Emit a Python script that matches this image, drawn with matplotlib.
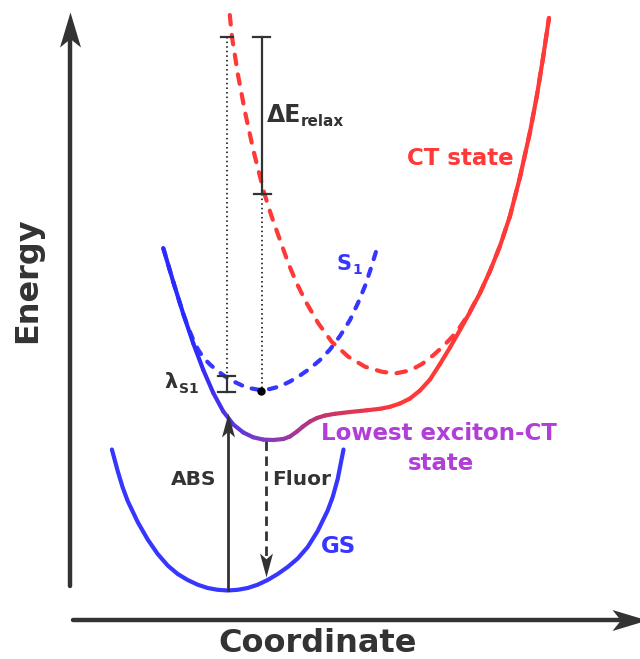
import numpy as np
import matplotlib.pyplot as plt
from matplotlib.collections import LineCollection
from matplotlib.colors import LinearSegmentedColormap, Normalize
from matplotlib.path import Path

DARK = '#333333'
BLUE = '#3636ff'
RED = '#ff3838'
PURPLE = '#b23ed8'

# potential energy curves (coordinate, energy) in screen units, energy grows downwards
gs_x = [111.9, 117.7, 122.7, 127.7, 137.7, 147.7, 157.7, 167.7, 177.7, 187.7,
        197.7, 207.7, 217.7, 227.7, 237.7, 247.7, 257.7, 267.7, 277.7, 287.7,
        297.7, 307.7, 317.7, 327.7, 332.7, 337.7, 343.5]
gs_y = [449.5, 471, 487.5, 501, 522, 539.5, 554, 565.5, 574, 580,
        584.7, 588, 589.8, 590.5, 589.8, 588, 584.7, 580, 574, 567,
        558.5, 547, 531, 510.5, 497, 479, 449.5]

s1_x = [163.3, 173.3, 183.3, 188, 193.3, 198, 203.3, 210, 216.7, 225, 233.3,
        241.7, 250, 260, 270, 280, 290, 300, 310, 320, 330, 340, 350, 358,
        365, 371, 376.5]
s1_y = [248.3, 282, 314, 327, 340, 349.5, 357.5, 364.5, 370.3, 376.3, 381.3,
        385.3, 388.2, 390, 389, 386.3, 381.5, 375.5, 368.5, 360, 349.5, 336, 320, 303,
        286, 268, 250]

ct_x = [229.8, 232, 238, 245, 253.3, 258.3, 264.3, 271.7, 280, 288.3, 296.7,
        306.7, 318.3, 331.7, 348.3, 365, 381.7, 395, 410, 422, 433, 443, 452,
        460, 468, 476.7, 480, 490, 500, 510, 520, 530, 537, 543, 549]
ct_y = [15, 37, 75, 112, 150, 170, 193.3, 216.7, 240, 263.3, 283.3,
        303.3, 323.3, 341.7, 356.7, 366.7, 371.7, 373.5, 370.5, 364, 355.5, 346.5, 337,
        327, 315, 299, 293, 271, 246, 216, 177, 132, 95, 58, 18]

low_x = [163.3, 173.3, 183.3, 193.3, 203.3, 213.3, 223.3, 233.3, 243.3, 253.3,
         263.3, 273.3, 283.3, 290, 297, 303, 310, 317, 325, 335, 350, 366.7,
         380, 390, 400, 410, 420, 430, 440, 450, 460, 470, 480, 490, 500, 510,
         520, 530, 537, 543, 549]
low_y = [248.3, 282, 314, 343.5, 370, 393, 411.5, 424.5, 432.5, 437.3,
         439.6, 440, 439, 436.5, 431.5, 426.5, 421.5, 418, 415.5, 413.8, 412, 410.3,
         408.8, 406.8, 403.5, 398.5, 390.5, 379.5, 364, 347.5, 330, 312, 293, 271, 246, 216,
         177, 132, 95, 58, 18]

# vertical transitions and gaps
abs_x, abs_from, abs_to = 227.5, 590, 413
fluor_x, fluor_from, fluor_to = 265.5, 441, 577
relax_x, relax_top, relax_bottom = 262, 37, 194
lam_x, lam_top, lam_bottom = 226.7, 376, 392
s1_min = (261, 391)

PX = 0.72  # points per pixel at 100 dpi


def head(ax, x, y, direction, length, half, color=DARK):
    # concave arrow head with its tip at (x, y); length and half width in pixels
    w = half / length
    base = {'up': [(0, 0), (w, -1), (0, -0.76), (-w, -1), (0, 0)],
            'down': [(0, 0), (w, 1), (0, 0.76), (-w, 1), (0, 0)],
            'right': [(0, 0), (-1, w), (-0.76, 0), (-1, -w), (0, 0)]}[direction]
    codes = [Path.MOVETO, Path.LINETO, Path.LINETO, Path.LINETO, Path.CLOSEPOLY]
    ax.plot(x, y, marker=Path(base, codes), ms=2 * length * PX, mew=0,
            color=color, zorder=5)


fig = plt.figure(figsize=(6.4, 6.59), dpi=100)
ax = fig.add_axes([0, 0, 1, 1])
ax.set_xlim(0, 640)
ax.set_ylim(659, 0)
ax.axis('off')

# axes arrows
ax.plot([70, 70], [586, 40], color=DARK, lw=3.2, solid_capstyle='round')
head(ax, 70, 11.5, 'up', 35, 10.5)
ax.plot([73, 620], [620, 620], color=DARK, lw=3.2, solid_capstyle='round')
head(ax, 647, 620, 'right', 35, 10.5)

dash = dict(lw=3, dash_capstyle='round', solid_capstyle='round')
ax.plot(s1_x, s1_y, color=BLUE, ls=(0, (1.8, 2.4)), **dash)
ax.plot(ct_x, ct_y, color=RED, ls=(0, (2.3, 2.5)), **dash)

# lowest exciton-CT state, coloured from S1-like (blue) to CT-like (red)
pts = np.column_stack([low_x, low_y])
segs = np.stack([pts[:-1], pts[1:]], axis=1)
cmap = LinearSegmentedColormap.from_list('exct', ['#2a2aff', '#7a3cc4', '#c8336a', RED])
mid = (pts[:-1, 0] + pts[1:, 0]) / 2
lc = LineCollection(segs, colors=cmap(Normalize(195, 395)(mid)), lw=3,
                    capstyle='round', joinstyle='round')
ax.add_collection(lc)

ax.plot(gs_x, gs_y, color=BLUE, lw=3, solid_capstyle='round')

# dotted guides
dot = dict(color='black', lw=1.1, ls=(0, (1, 2)))
ax.plot([lam_x, lam_x], [relax_top, lam_top], **dot)
ax.plot([s1_min[0] + 1, s1_min[0] + 1], [relax_bottom, s1_min[1]], **dot)
ax.plot(*s1_min, 'o', color='black', ms=5)

# relaxation energy bar
bar = dict(color=DARK, lw=1.6)
ax.plot([relax_x, relax_x], [relax_top, relax_bottom], **bar)
ax.plot([relax_x - 9, relax_x + 8], [relax_top, relax_top], **bar)
ax.plot([relax_x - 8, relax_x + 9], [relax_bottom, relax_bottom], **bar)
ax.plot([lam_x - 6, lam_x + 6], [relax_top, relax_top], **bar)

# reorganisation bar
ax.plot([lam_x, lam_x], [lam_top, lam_bottom], **bar)
ax.plot([lam_x - 8.5, lam_x + 8.5], [lam_top, lam_top], **bar)
ax.plot([lam_x - 8.5, lam_x + 8.5], [lam_bottom, lam_bottom], **bar)

# absorption
ax.plot([abs_x, abs_x], [abs_from, abs_to + 16], color=DARK, lw=2)
head(ax, abs_x, abs_to, 'up', 24, 6.5)
# fluorescence
ax.plot([fluor_x, fluor_x], [fluor_from, fluor_to - 18], color=DARK, lw=2,
        ls=(0, (3.4, 2)))
head(ax, fluor_x, fluor_to, 'down', 24, 6.5)

bold = dict(fontweight='bold', family='DejaVu Sans')
ax.text(27.5, 280, 'Energy', rotation=90, ha='center', va='center',
        fontsize=23, color=DARK, **bold)
ax.text(318, 644, 'Coordinate', ha='center', va='center', fontsize=23,
        color=DARK, **bold)
ax.text(407, 165, 'CT state', ha='left', va='baseline', fontsize=16.5,
        color=RED, **bold)
ax.text(336, 270, 'S', ha='left', va='baseline', fontsize=15, color=BLUE, **bold)
ax.text(352, 274, '1', ha='left', va='baseline', fontsize=10, color=BLUE, **bold)
ax.text(321, 553, 'GS', ha='left', va='baseline', fontsize=16.5, color=BLUE, **bold)
ax.text(267, 122, 'ΔE', ha='left', va='baseline', fontsize=17, color=DARK, **bold)
ax.text(301, 126, 'relax', ha='left', va='baseline', fontsize=11, color=DARK, **bold)
ax.text(164, 388, 'λ', ha='left', va='baseline', fontsize=15, color=DARK, **bold)
ax.text(179, 393, 'S1', ha='left', va='baseline', fontsize=10, color=DARK, **bold)
ax.text(194, 485, 'ABS', ha='center', va='baseline', fontsize=14.5, color=DARK, **bold)
ax.text(272, 485, 'Fluor', ha='left', va='baseline', fontsize=14.5, color=DARK, **bold)
ax.text(439, 440, 'Lowest exciton-CT', ha='center', va='baseline', fontsize=16.5,
        color=PURPLE, **bold)
ax.text(441, 470, 'state', ha='center', va='baseline', fontsize=16.5,
        color=PURPLE, **bold)

fig.savefig('out.png', dpi=100)
